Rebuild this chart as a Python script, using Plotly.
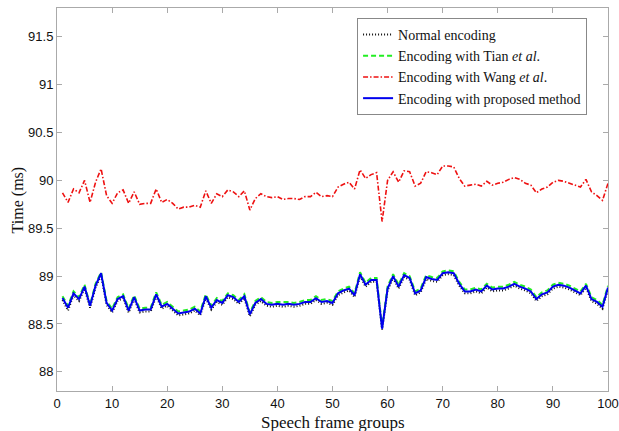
import plotly.graph_objects as go

frames = list(range(1, 101))

normal = [88.75,88.64,88.80,88.74,88.87,88.67,88.88,89.01,88.70,88.62,
88.74,88.77,88.62,88.76,88.62,88.63,88.63,88.79,88.66,88.69,
88.64,88.59,88.60,88.61,88.64,88.59,88.77,88.65,88.73,88.70,
88.78,88.76,88.71,88.77,88.58,88.70,88.74,88.69,88.68,88.69,
88.68,88.69,88.68,88.69,88.71,88.71,88.75,88.71,88.72,88.70,
88.80,88.83,88.85,88.78,89.00,88.89,88.94,88.94,88.44,88.85,
88.98,88.87,88.99,88.96,88.80,88.83,88.97,88.95,88.94,89.01,
89.02,89.01,88.90,88.82,88.82,88.84,88.82,88.88,88.84,88.85,
88.85,88.87,88.90,88.87,88.85,88.82,88.74,88.79,88.81,88.87,
88.89,88.88,88.86,88.83,88.80,88.88,88.74,88.71,88.66,88.86]

tian = [88.79,88.69,88.84,88.78,88.91,88.70,88.92,89.04,88.74,88.66,
88.78,88.81,88.66,88.80,88.66,88.67,88.67,88.83,88.70,88.73,
88.68,88.63,88.64,88.65,88.68,88.63,88.81,88.69,88.77,88.74,
88.82,88.80,88.75,88.81,88.62,88.74,88.78,88.73,88.72,88.73,
88.73,88.73,88.72,88.73,88.75,88.75,88.79,88.75,88.76,88.74,
88.84,88.87,88.89,88.82,89.04,88.93,88.98,88.98,88.47,88.89,
89.02,88.91,89.03,89.00,88.84,88.87,89.01,88.99,88.98,89.05,
89.06,89.05,88.94,88.86,88.86,88.88,88.86,88.92,88.88,88.89,
88.89,88.91,88.94,88.91,88.89,88.86,88.78,88.83,88.85,88.91,
88.93,88.92,88.90,88.87,88.84,88.92,88.78,88.75,88.70,88.90]

wang = [89.87,89.77,89.91,89.87,90.00,89.77,89.98,90.12,89.84,89.76,
89.87,89.90,89.76,89.88,89.75,89.76,89.76,89.91,89.77,89.80,
89.76,89.70,89.72,89.72,89.74,89.72,89.89,89.76,89.86,89.83,
89.90,89.88,89.83,89.89,89.69,89.81,89.86,89.83,89.82,89.83,
89.80,89.81,89.81,89.80,89.83,89.83,89.875,89.83,89.84,89.83,
89.93,89.96,89.98,89.91,90.11,90.02,90.06,90.08,89.57,90.00,
90.09,89.98,90.10,90.09,89.94,89.97,90.09,90.08,90.06,90.15,
90.15,90.14,90.02,89.94,89.95,89.96,89.94,89.99,89.95,89.97,
89.98,90.01,90.03,90.01,89.97,89.95,89.87,89.91,89.93,89.98,
90.00,89.99,89.97,89.95,89.93,90.01,89.88,89.84,89.79,89.97]

proposed = [88.77,88.67,88.82,88.76,88.89,88.69,88.90,89.03,88.72,88.64,
88.76,88.79,88.64,88.78,88.64,88.65,88.65,88.81,88.68,88.71,
88.66,88.61,88.62,88.63,88.66,88.61,88.79,88.67,88.75,88.72,
88.80,88.78,88.73,88.79,88.60,88.72,88.76,88.71,88.70,88.71,
88.70,88.71,88.70,88.71,88.73,88.73,88.77,88.73,88.74,88.72,
88.82,88.85,88.87,88.80,89.02,88.91,88.96,88.96,88.45,88.87,
89.00,88.89,89.01,88.98,88.82,88.85,88.99,88.97,88.96,89.03,
89.04,89.03,88.92,88.84,88.84,88.86,88.84,88.90,88.86,88.87,
88.87,88.89,88.92,88.89,88.87,88.84,88.76,88.81,88.83,88.89,
88.91,88.90,88.88,88.85,88.82,88.90,88.76,88.73,88.68,88.88]

names = ["Normal encoding",
         "Encoding with Tian <i>et al</i>.",
         "Encoding with Wang <i>et al</i>.",
         "Encoding with proposed method"]

x_title = "Speech frame groups"
y_title = "Time (ms)"

x_ticks = list(range(0, 101, 10))
y_ticks = [88, 88.5, 89, 89.5, 90, 90.5, 91, 91.5]
y_tick_text = ["88", "88.5", "89", "89.5", "90", "90.5", "91", "91.5"]

fig = go.Figure()
fig.add_trace(go.Scatter(x=frames, y=normal, mode="lines", name=names[0],
                         line=dict(color="#111111", width=2, dash="1px,2px")))
fig.add_trace(go.Scatter(x=frames, y=tian, mode="lines", name=names[1],
                         line=dict(color="#22ee22", width=2, dash="5px,3px")))
fig.add_trace(go.Scatter(x=frames, y=wang, mode="lines", name=names[2],
                         line=dict(color="#ee1111", width=1.6, dash="5px,2px,1.5px,2px")))
fig.add_trace(go.Scatter(x=frames, y=proposed, mode="lines", name=names[3],
                         line=dict(color="#0000ee", width=2)))

axis_common = dict(showgrid=False, zeroline=False, showline=True, linecolor="#aaaaaa",
                   linewidth=1, mirror="ticks", ticks="inside", ticklen=5,
                   tickcolor="#aaaaaa", automargin=False,
                   tickfont=dict(family="Liberation Sans, Arial", size=13, color="#111111"))

fig.update_xaxes(range=[0, 100], tickvals=x_ticks, **axis_common)
fig.update_yaxes(range=[87.8, 91.8], tickvals=y_ticks, ticktext=y_tick_text, **axis_common)

title_font = dict(family="Liberation Serif, Times New Roman", size=17, color="#111111")
fig.add_annotation(text=x_title, xref="paper", yref="paper", x=0.5, y=-0.081,
                   xanchor="center", yanchor="middle", showarrow=False, font=title_font)
fig.add_annotation(text=y_title, xref="paper", yref="paper", x=-0.071, y=0.5,
                   xanchor="center", yanchor="middle", textangle=-90, showarrow=False,
                   font=dict(family="Liberation Serif, Times New Roman", size=16, color="#111111"))

fig.update_layout(
    width=619, height=431,
    margin=dict(l=57, r=11, t=8, b=40),
    paper_bgcolor="white", plot_bgcolor="white",
    showlegend=True,
    legend=dict(x=0.962, y=0.974, xanchor="right", yanchor="top",
                bgcolor="white", bordercolor="#888888", borderwidth=1,
                font=dict(family="Liberation Serif, Times New Roman", size=14, color="#111111"),
                itemwidth=30, tracegroupgap=0),
)

fig.write_html("out.html", config={"displayModeBar": False},
               post_script="document.body.style.margin='0';document.body.style.overflow='hidden';")
